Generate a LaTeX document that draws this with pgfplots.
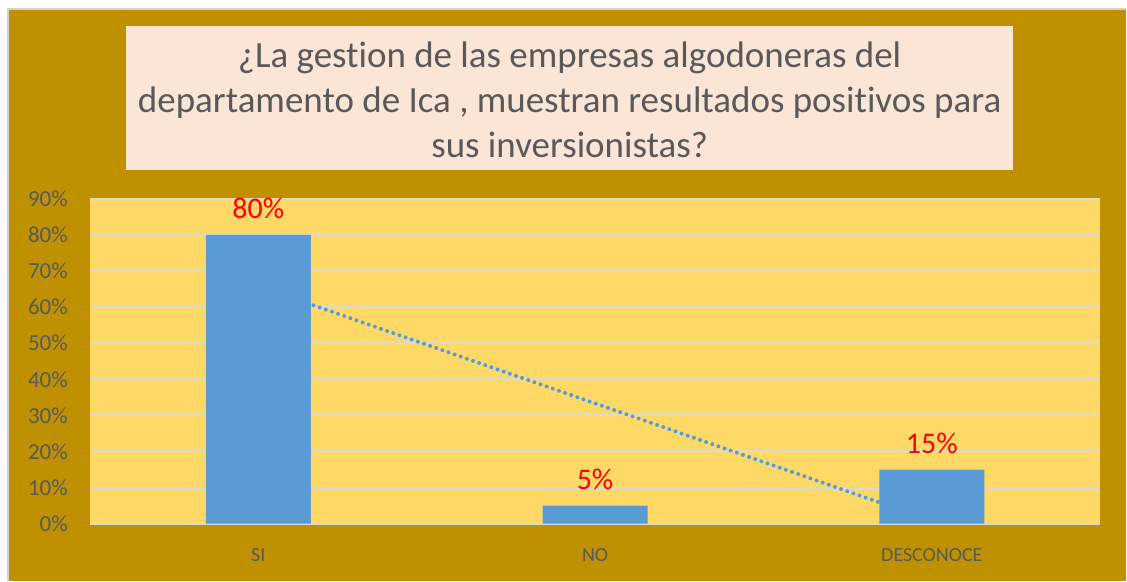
\documentclass[border=0pt]{standalone}
\usepackage{fontspec}
\setmainfont{Carlito}[Ligatures={NoCommon}]
\usepackage{pgfplots}
\pgfplotsset{compat=1.18}
\definecolor{gold}{HTML}{BF9000}
\definecolor{titlebg}{HTML}{FBE5D6}
\definecolor{plotbg}{HTML}{FFD966}
\definecolor{barblue}{HTML}{5B9BD5}
\definecolor{txtgray}{HTML}{595959}
\definecolor{gridgray}{HTML}{D9D9D9}
\begin{document}
\begin{tikzpicture}[x=1pt,y=1pt]
\fill[white] (0,0) rectangle (1127,581);
\fill[gold] (9,0) rectangle (1127,571);
\draw[gray!35, line width=1.5pt] (8.25,0) -- (8.25,571.75) -- (1127,571.75);
\fill[titlebg] (126,411) rectangle (1014,555);
\node[text=txtgray, align=center, font=\fontsize{37}{45}\selectfont] at (570,481)
  {¿La gestion de las empresas algodoneras del\\departamento de Ica , muestran resultados positivos para\\sus inversionistas?};
\begin{axis}[
  at={(90pt,57pt)}, anchor=south west,
  scale only axis, width=1011pt, height=325pt,
  xmin=-0.5, xmax=2.5, ymin=0, ymax=90,
  xtick={0,1,2}, xticklabels={SI,NO,DESCONOCE},
  ytick={0,10,20,30,40,50,60,70,80,90},
  yticklabels={0\%,10\%,20\%,30\%,40\%,50\%,60\%,70\%,80\%,90\%},
  ymajorgrids, grid style={gridgray, line width=2pt},
  axis line style={draw=none},
  major tick length=0pt,
  yticklabel style={text=txtgray, font=\fontsize{23}{23}\selectfont, inner sep=0pt, anchor=east, xshift=-22pt},
  xticklabel style={text=txtgray, font=\fontsize{20}{20}\selectfont, inner sep=0pt, anchor=center, yshift=-31pt},
  axis background/.style={fill=plotbg},
  clip=false,
]
\addplot[barblue, line width=4pt, dash pattern=on 0pt off 6.5pt, line cap=round] coordinates {(0,65.83) (2,0.83)};
\addplot[ybar, bar width=105pt, fill=barblue, draw=none,
  nodes near coords={\pgfmathprintnumber[assume math mode=true]{\pgfplotspointmeta}\%},
  every node near coord/.append style={text=red, font=\fontsize{30}{30}\selectfont, inner sep=0pt, anchor=south, yshift=16pt}]
  coordinates {(0,80) (1,5) (2,15)};
\end{axis}
\end{tikzpicture}
\end{document}
